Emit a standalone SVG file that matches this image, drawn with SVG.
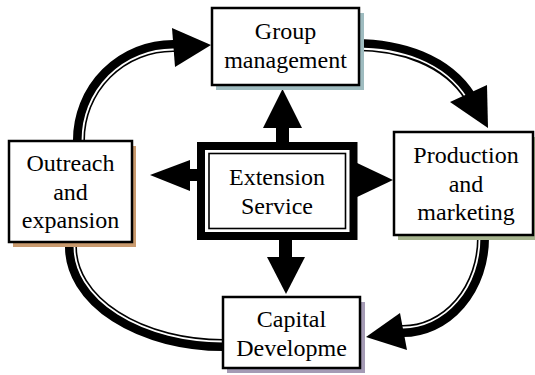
<svg xmlns="http://www.w3.org/2000/svg" width="535" height="375" viewBox="0 0 535 375">
<style>
.band{fill:none;stroke:#000;stroke-width:12}
.gap{fill:none;stroke:#fff;stroke-width:1.8}
.box{fill:#fff;stroke:#000;stroke-width:2.5}
.lbl{font-family:"Liberation Serif","Times New Roman",serif;font-size:24px;fill:#000;text-anchor:middle}
.head{fill:#000}
</style>
<rect width="535" height="375" fill="#fff"/>
<g id="connectors">
  <!-- Outreach -> Group -->
  <path class="band" d="M79 146 L79 140 A94 94 0 0 1 173 46 L181 46"/>
  <path class="gap" d="M82.5 146 L82.5 140 A90.5 90.5 0 0 1 173 49.5 L181 49.5"/>
  <polygon class="head" points="172,28 175,67 211,45"/>
  <!-- Group -> Production -->
  <path class="band" d="M355 45 C400 45 447 60 470 97"/>
  <path class="gap" d="M355 48.5 C400 48.5 444 61.8 467 98.8"/>
  <polygon class="head" points="450,102 487,85 488,128"/>
  <!-- Production -> Capital -->
  <path class="band" d="M483 232 L483 238 A80 93 0 0 1 403 331 L396 331"/>
  <path class="gap" d="M479.5 232 L479.5 238 A76.5 89.5 0 0 1 403 327.5 L396 327.5"/>
  <polygon class="head" points="400,313 407,350 366,337"/>
  <!-- Outreach - Capital -->
  <path class="band" d="M71 242 L71 247 A152 98 0 0 0 223 345 L228 345"/>
  <path class="gap" d="M74.5 242 L74.5 247 A148.5 94.5 0 0 0 223 341.5 L228 341.5"/>
  <!-- Extension Service arrows -->
  <rect class="head" x="276" y="126" width="13" height="18"/>
  <polygon class="head" points="263,128 302,128 282.5,89"/>
  <rect class="head" x="188" y="169" width="12" height="12"/>
  <polygon class="head" points="190,160 190,191 150,175"/>
  <polygon class="head" points="355,162 355,198 393,180"/>
  <rect class="head" x="279" y="238" width="13" height="21"/>
  <polygon class="head" points="267,257 305,257 286,294"/>
</g>
<g id="group-management">
  <rect x="216" y="13" width="148" height="77" fill="#9fbcc0"/>
  <rect class="box" x="212" y="8" width="147" height="77"/>
  <text class="lbl" x="285.5" y="39">Group</text>
  <text class="lbl" x="285.5" y="68">management</text>
</g>
<g id="production-marketing">
  <rect x="398" y="137" width="140" height="103" fill="#a6b48e"/>
  <rect class="box" x="394" y="132" width="139" height="103"/>
  <text class="lbl" x="466" y="163">Production</text>
  <text class="lbl" x="466" y="192">and</text>
  <text class="lbl" x="466" y="220">marketing</text>
</g>
<g id="outreach-expansion">
  <rect x="13" y="146" width="123" height="101" fill="#c99a6e"/>
  <rect class="box" x="9" y="141" width="123" height="101"/>
  <text class="lbl" x="70.5" y="171">Outreach</text>
  <text class="lbl" x="70.5" y="200">and</text>
  <text class="lbl" x="70.5" y="228">expansion</text>
</g>
<g id="capital-development">
  <rect x="227" y="302" width="138" height="71" fill="#a59bb5"/>
  <rect class="box" x="223" y="297" width="137" height="71"/>
  <text class="lbl" x="291.5" y="327">Capital</text>
  <text class="lbl" x="291.5" y="356">Developme</text>
</g>
<g id="extension-service">
  <rect x="197" y="142" width="160.5" height="98" fill="#000"/>
  <rect x="205" y="150" width="144.5" height="82" fill="#fff"/>
  <rect x="209" y="153.5" width="136.5" height="75" fill="none" stroke="#000" stroke-width="1.6"/>
  <text class="lbl" x="277" y="185">Extension</text>
  <text class="lbl" x="277" y="214">Service</text>
</g>
</svg>
